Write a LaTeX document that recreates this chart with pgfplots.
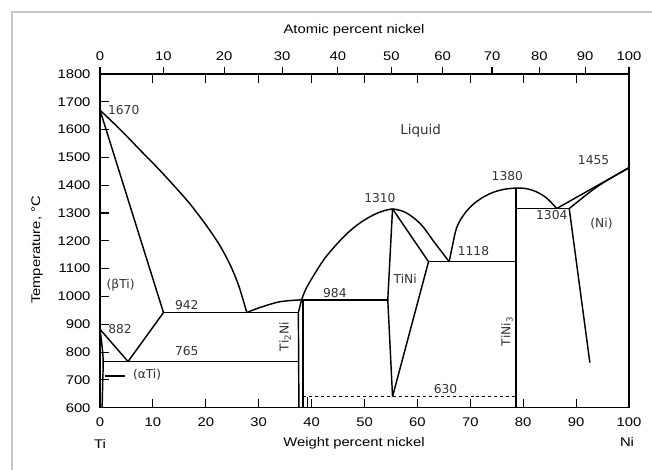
\documentclass[border=0pt]{standalone}
\usepackage{fontspec}
\setmainfont{Liberation Sans}[FakeStretch=1.18]
\newfontfamily\lab{DejaVu Sans}
\usepackage{pgfplots}
\pgfplotsset{compat=1.18}
\begin{document}
\begin{tikzpicture}[x=1bp,y=1bp]
\useasboundingbox (0,0) rectangle (652,470);
\draw[gray!45, line width=1.8bp] (12,-2) -- (12,458) -- (654,458);
\begin{axis}[
  at={(100bp,62.3bp)}, anchor=south west, scale only axis,
  width=529bp, height=333.7bp,
  xmin=0, xmax=100, ymin=600, ymax=1800,
  xtick={0,10,...,100}, ytick={600,700,...,1800},
  tick align=inside, xtick pos=both, ytick pos=left, xticklabel pos=left,
  major tick length=9bp,
  axis line style={line width=1.3bp},
  every tick/.style={black, line width=1.1bp},
  ticklabel style={font=\fontsize{12.6}{14}\selectfont},
  /pgf/number format/assume math mode=true,
  /pgf/number format/1000 sep={},
  yticklabel style={xshift=-6bp},
  xticklabel style={yshift=-7bp},
  clip=false,
  cycle list={{black, solid}},
  every axis plot/.append style={black, line width=1.45bp, no markers, line join=round},
]
% Ti liquidus
\addplot[smooth, tension=0.5] coordinates {(0,1670) (4,1597) (7.5,1528) (11,1460) (14,1398) (17,1333) (20,1258) (22.5,1188) (24.5,1118) (26.2,1040) (27.7,945)};
% beta Ti solidus
\addplot[] coordinates {(0,1670) (12,942)};
% 942 line
\addplot[] coordinates {(12,942) (37.5,942)};
% eutectoid lines
\addplot[] coordinates {(0,882) (5.3,766) (12,942)};
% 765 line
\addplot[] coordinates {(0.5,766) (37.5,766)};
% alpha Ti boundary
\addplot[smooth] coordinates {(0,882) (0.4,820) (0.6,766) (0.5,680) (0.4,600)};
% alpha Ti pointer
\addplot[line width=1.2bp] coordinates {(0.9,714) (4.7,714)};
% eutectic liquidus to Ti2Ni
\addplot[smooth] coordinates {(27.7,942) (30.2,960) (34,981) (38.1,988)};
% Ti2Ni
\addplot[] coordinates {(37.6,600) (37.5,942) (38.1,988)};
\addplot[] coordinates {(38.4,988) (38.4,600)};
% 984 line
\addplot[] coordinates {(38.1,988) (54.4,988)};
% liquidus 984 -> 1310
\addplot[smooth, tension=0.6] coordinates {(38.1,988) (39,1030) (40.6,1082) (42.3,1132) (44.1,1174) (46,1213) (48,1248) (50,1275) (52,1296) (53.8,1309) (55.3,1315)};
% liquidus 1310 -> 1118
\addplot[smooth, tension=0.6] coordinates {(55.3,1315) (57.3,1306) (59.2,1284) (61,1252) (63,1200) (64.6,1160) (66,1125)};
% TiNi
\addplot[] coordinates {(55.3,1315) (54.4,988) (55.3,640)};
\addplot[] coordinates {(55.3,1315) (62.1,1125) (55.3,640)};
% 1118 line
\addplot[] coordinates {(62.1,1125) (78.6,1125)};
% TiNi3
\addplot[] coordinates {(78.6,1390) (78.6,600)};
% liquidus 1118 -> 1380
\addplot[smooth, tension=0.6] coordinates {(66,1125) (66.6,1180) (67.4,1246) (68.7,1292) (70.3,1327) (72,1352) (74,1372) (76.3,1385) (78.6,1390)};
% liquidus 1380 -> 1304
\addplot[smooth, tension=0.6] coordinates {(78.6,1390) (80.5,1388) (82.3,1378) (84,1360) (85.3,1338) (86.3,1316)};
% 1304 line
\addplot[] coordinates {(78.6,1316) (88.7,1316)};
% Ni liquidus / solidus
\addplot[] coordinates {(86.3,1316) (100,1463)};
\addplot[smooth] coordinates {(88.7,1316) (94,1395) (100,1463)};
% Ni solvus
\addplot[] coordinates {(88.7,1316) (92.6,762)};
% 630 dashed
\addplot[dashed, line width=1.2bp] coordinates {(38.4,640) (78.6,640)};
\addplot[line width=0.9bp] coordinates {(39.2,600) (39.2,640)};

\begin{scope}[every node/.style={font=\lab\fontsize{12.3}{14}\selectfont, inner sep=0pt, text=black!80}]
\node[anchor=west] at (axis cs:1.5,1672) {1670};
\node[font=\lab\fontsize{13.5}{15}\selectfont] at (axis cs:60.6,1595) {Liquid};
\node at (axis cs:52.9,1355) {1310};
\node at (axis cs:77.0,1432) {1380};
\node at (axis cs:93.3,1489) {1455};
\node at (axis cs:85.4,1292) {1304};
\node at (axis cs:94.8,1261) {(Ni)};
\node at (axis cs:70.6,1162) {1118};
\node at (axis cs:57.7,1064) {TiNi};
\node at (axis cs:44.4,1012) {984};
\node at (axis cs:16.4,970) {942};
\node at (axis cs:3.8,882) {882};
\node at (axis cs:16.4,802) {765};
\node at (axis cs:3.9,1042) {(βTi)};
\node at (axis cs:8.9,719) {(αTi)};
\node[rotate=90] at (axis cs:35.0,856) {Ti\textsubscript{2}Ni};
\node[rotate=90] at (axis cs:76.9,874) {TiNi\textsubscript{3}};
\node at (axis cs:65.3,667) {630};
\end{scope}
\end{axis}
\begin{axis}[
  at={(100bp,62.3bp)}, anchor=south west, scale only axis,
  width=529bp, height=333.7bp,
  xmin=0, xmax=100, ymin=600, ymax=1800,
  axis x line*=top, axis y line=none,
  xtick={0,11.99,23.46,34.44,44.97,55.08,64.78,74.10,83.06,91.69,100},
  xticklabels={0,10,20,30,40,50,60,70,80,90,100},
  tick align=outside, major tick length=7bp,
  axis line style={line width=1.3bp},
  every tick/.style={black, line width=1.1bp},
  ticklabel style={font=\fontsize{12.6}{14}\selectfont},
  xticklabel style={yshift=3bp},
]
\end{axis}
\node[font=\fontsize{12.6}{14}\selectfont] at (354,440) {Atomic percent nickel};
\node[font=\fontsize{12.6}{14}\selectfont] at (354,27) {Weight percent nickel};
\node[font=\fontsize{12.6}{14}\selectfont] at (100,26) {Ti};
\node[font=\fontsize{12.6}{14}\selectfont] at (627,28) {Ni};
\node[font=\fontsize{12.6}{14}\selectfont, rotate=90] at (37,220) {Temperature, °C};
\end{tikzpicture}
\end{document}
